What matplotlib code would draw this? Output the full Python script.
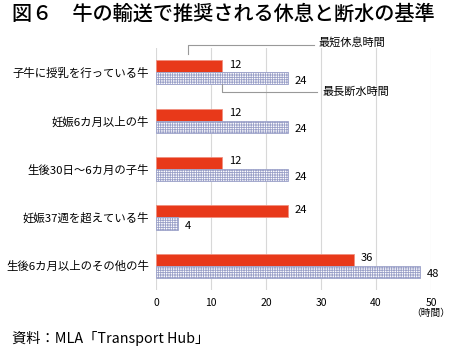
import matplotlib.pyplot as plt
import numpy as np

plt.rcParams['font.family'] = ['Noto Sans CJK JP', 'DejaVu Sans']
plt.rcParams['hatch.linewidth'] = 0.6
plt.rcParams['hatch.color'] = '#4a5acc'

categories = ['子牛に授乳を行っている牛', '妊娠6カ月以上の牛', '生後30日～6カ月の子牛',
              '妊娠37週を超えている牛', '生後6カ月以上のその他の牛']
rest = [12, 12, 12, 24, 36]
water = [24, 24, 24, 4, 48]

fig = plt.figure(figsize=(4.5, 3.52), dpi=100)
ax = fig.add_axes([156/450, 1-290/352, 275/450, 242/352])

y = np.arange(len(categories))
h = 0.25
b1 = ax.barh(y - h/2, rest, height=h, color='#e8391a', edgecolor='#f09080', linewidth=0.6, zorder=3)
b2 = ax.barh(y + h/2, water, height=h, color='white', edgecolor='#9aa0c8', hatch='+++++++',
             linewidth=0.6, zorder=3)

for bar, v in zip(b1, rest):
    ax.text(v + 1.2, bar.get_y() + bar.get_height()/2 - 0.03, str(v), va='center', ha='left', fontsize=8)
for bar, v in zip(b2, water):
    ax.text(v + 1.2, bar.get_y() + bar.get_height()/2 + 0.05, str(v), va='center', ha='left', fontsize=8)

ax.set_xlim(0, 50)
ax.set_ylim(4.5, -0.5)
ax.set_xticks([0, 10, 20, 30, 40, 50])
ax.set_yticks(y)
ax.set_yticklabels(categories, fontsize=8.2)
ax.tick_params(axis='x', labelsize=7.5, length=0, pad=6)
ax.tick_params(axis='y', length=0, pad=5)
ax.grid(axis='x', color='#d8d8d8', linewidth=0.8, zorder=0)
for s in ax.spines.values():
    s.set_visible(False)

# legend-style callouts
ax.plot([5.8, 5.8, 28.8], [-0.375, -0.56, -0.56], color='#999999', lw=0.8, clip_on=False, zorder=4)
ax.text(29.6, -0.62, '最短休息時間', fontsize=8, va='center', ha='left')
ax.plot([12, 12, 29.2], [0.25, 0.41, 0.41], color='#999999', lw=0.8, clip_on=False, zorder=4)
ax.text(30.2, 0.41, '最長断水時間', fontsize=8, va='center', ha='left')

fig.text(431/450, 1-313/352, '（時間）', fontsize=7, ha='center', va='center')
fig.text(12/450, 1-14/352, '図６　牛の輸送で推奨される休息と断水の基準', fontsize=14.5,
         fontweight='medium', ha='left', va='center')
fig.text(12/450, 1-338/352, '資料：MLA「Transport Hub」', fontsize=10.3, ha='left', va='center')

fig.savefig('out.png', dpi=100)
